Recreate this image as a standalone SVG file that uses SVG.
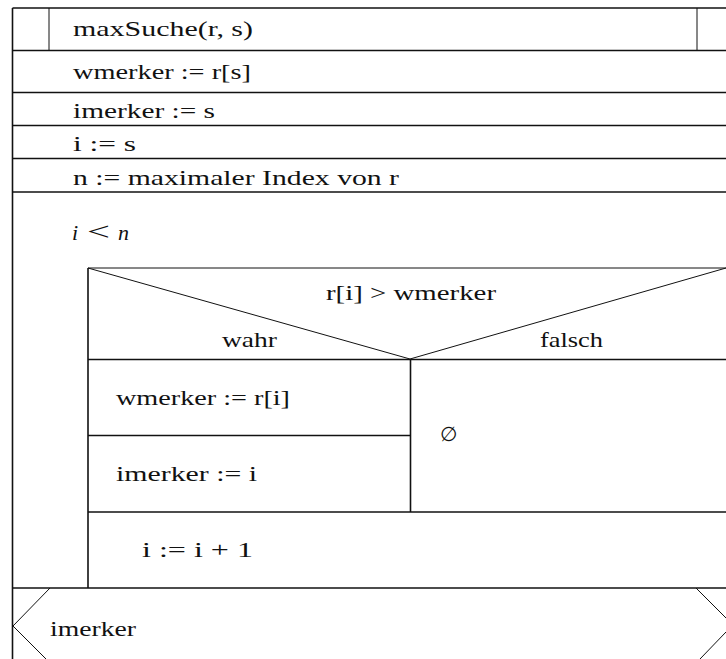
<svg xmlns="http://www.w3.org/2000/svg" width="726" height="659" viewBox="0 0 726 659">
  <style>
    text { font-family: "Liberation Serif", "DejaVu Serif", serif; font-size: 22px; fill: #111; }
    .it { font-style: italic; }
    .ln { stroke: #111; stroke-width: 1.6; fill: none; }
    .thin { stroke: #111; stroke-width: 1; fill: none; }
  </style>
  <rect width="726" height="659" fill="#fff"/>

  <!-- outer frame -->
  <g id="frame">
    <line class="ln" x1="12.5" y1="8" x2="726" y2="8"/>
    <line class="ln" x1="12.5" y1="8" x2="12.5" y2="659"/>
  </g>

  <!-- header -->
  <g id="header">
    <line class="thin" x1="49" y1="8" x2="49" y2="50"/>
    <line class="thin" x1="697" y1="8" x2="697" y2="50"/>
    <line class="ln" x1="12.5" y1="50.5" x2="726" y2="50.5"/>
    <text x="73" y="36" textLength="180" lengthAdjust="spacingAndGlyphs">maxSuche(r, s)</text>
  </g>

  <g id="s1">
    <text x="73" y="79" textLength="178" lengthAdjust="spacingAndGlyphs">wmerker := r[s]</text>
    <line class="ln" x1="12.5" y1="92.5" x2="726" y2="92.5"/>
  </g>
  <g id="s2">
    <text x="73" y="118" textLength="142" lengthAdjust="spacingAndGlyphs">imerker := s</text>
    <line class="ln" x1="12.5" y1="125.5" x2="726" y2="125.5"/>
  </g>
  <g id="s3">
    <text x="73" y="151" textLength="63" lengthAdjust="spacingAndGlyphs">i := s</text>
    <line class="ln" x1="12.5" y1="158.5" x2="726" y2="158.5"/>
  </g>
  <g id="s4">
    <text x="73" y="185" textLength="326" lengthAdjust="spacingAndGlyphs">n := maximaler Index von r</text>
    <line class="ln" x1="12.5" y1="192" x2="726" y2="192"/>
  </g>

  <!-- while loop -->
  <g id="loop">
    <text class="it" x="72" y="240">i</text>
    <text x="87" y="240" style="font-size:26px" textLength="23" lengthAdjust="spacingAndGlyphs">&lt;</text>
    <text class="it" x="118" y="240">n</text>
    <line class="ln" x1="88" y1="268" x2="88" y2="588"/>
  </g>

  <!-- decision -->
  <g id="decision">
    <line class="thin" x1="88" y1="268" x2="726" y2="268"/>
    <line class="thin" x1="88" y1="268" x2="410" y2="359"/>
    <line class="thin" x1="410" y1="359" x2="726" y2="268"/>
    <line class="ln" x1="88" y1="359.5" x2="726" y2="359.5"/>
    <line class="ln" x1="410.5" y1="359" x2="410.5" y2="512"/>
    <text x="326" y="300" textLength="170" lengthAdjust="spacingAndGlyphs">r[i] &gt; wmerker</text>
    <text x="222" y="347" textLength="55" lengthAdjust="spacingAndGlyphs">wahr</text>
    <text x="540" y="347" textLength="63" lengthAdjust="spacingAndGlyphs">falsch</text>
  </g>

  <g id="t1">
    <text x="116" y="405" textLength="174" lengthAdjust="spacingAndGlyphs">wmerker := r[i]</text>
    <line class="ln" x1="88" y1="435.5" x2="410.5" y2="435.5"/>
  </g>
  <g id="t2">
    <text x="116" y="481" textLength="141" lengthAdjust="spacingAndGlyphs">imerker := i</text>
  </g>
  <g id="f1">
    <text x="440" y="441" style="font-size:20px">∅</text>
  </g>

  <g id="s5">
    <line class="ln" x1="88" y1="512" x2="726" y2="512"/>
    <text x="142" y="557" textLength="111" lengthAdjust="spacingAndGlyphs">i := i + 1</text>
    <line class="ln" x1="12.5" y1="588" x2="726" y2="588"/>
  </g>

  <!-- return -->
  <g id="ret">
    <polyline class="thin" points="50,588 13,626 46,659"/>
    <polyline class="thin" points="696,588 726,618"/>
    <polyline class="thin" points="726,632 700,659"/>
    <text x="50" y="636" textLength="86" lengthAdjust="spacingAndGlyphs">imerker</text>
  </g>
</svg>
